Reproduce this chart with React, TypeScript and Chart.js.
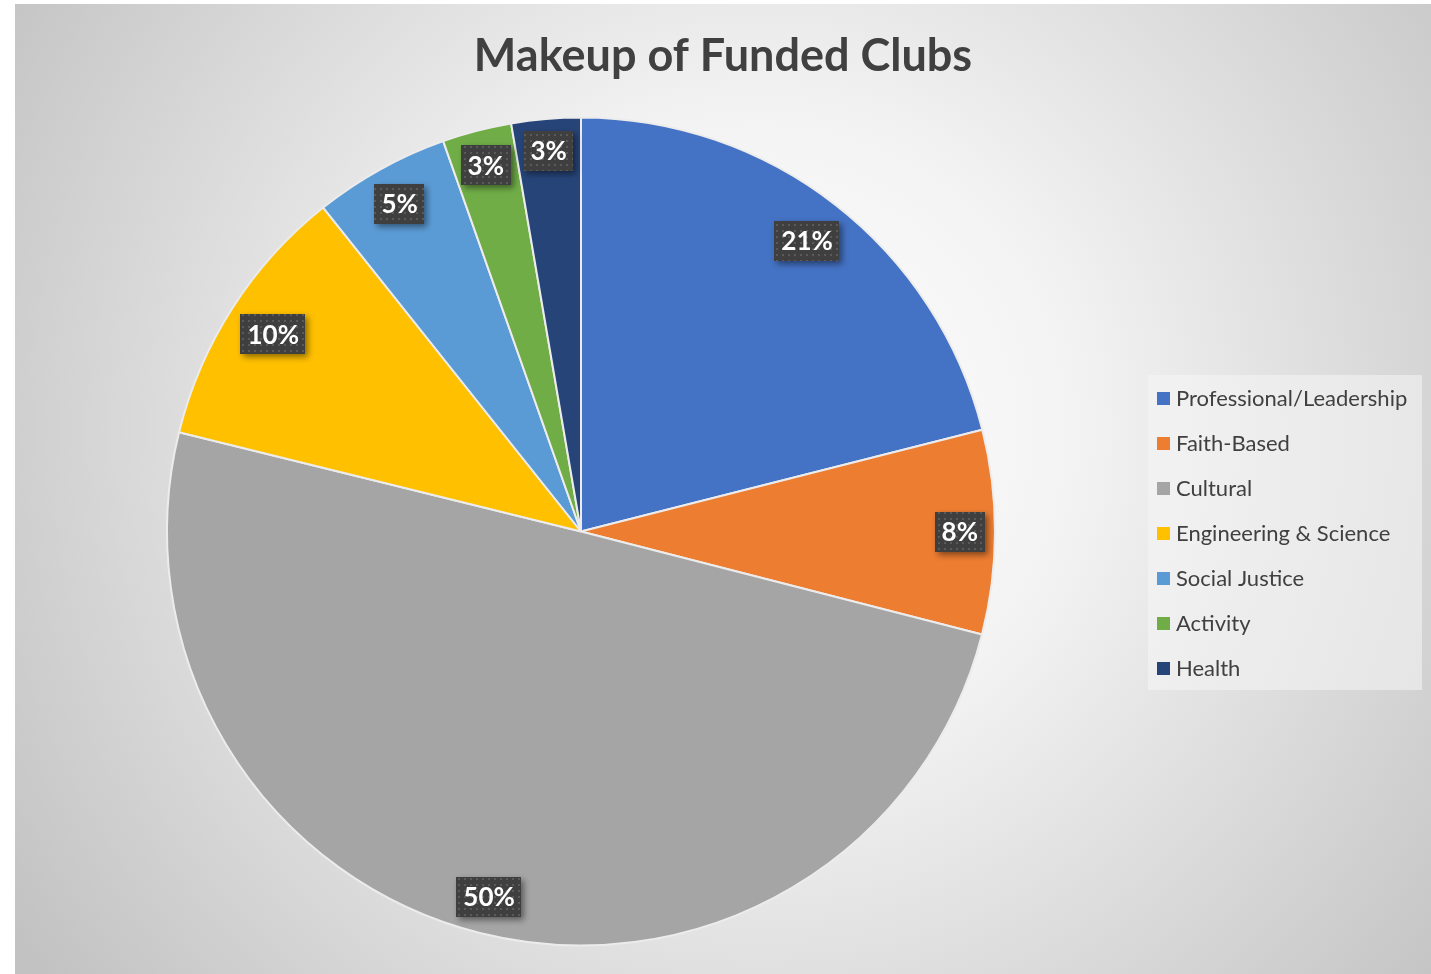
import React, { useEffect, useRef } from "react";
import { Chart, registerables } from "chart.js";

Chart.register(...registerables);

// ---- data ----
const categories = [
  "Professional/Leadership",
  "Faith-Based",
  "Cultural",
  "Engineering & Science",
  "Social Justice",
  "Activity",
  "Health",
];
const shares = [21.05, 7.95, 49.85, 10.45, 5.3, 2.7, 2.7];
const colors = ["#4472C4", "#ED7D31", "#A5A5A5", "#FFC000", "#5B9BD5", "#70AD47", "#264478"];
const chartTitle = "Makeup of Funded Clubs";

const W = 1431;
const H = 974;
const FONT = "Lato, 'Open Sans', 'DejaVu Sans', sans-serif";

function makePattern(ctx: CanvasRenderingContext2D) {
  const c = document.createElement("canvas");
  c.width = 6;
  c.height = 6;
  const p = c.getContext("2d")!;
  p.fillStyle = "#3f3f3f";
  p.fillRect(0, 0, 6, 6);
  p.fillStyle = "#5a5a5a";
  p.fillRect(2, 2, 2, 2);
  return ctx.createPattern(c, "repeat")!;
}

const backgroundPlugin = {
  id: "bgPlugin",
  beforeDraw(chart: any) {
    const ctx: CanvasRenderingContext2D = chart.ctx;
    ctx.save();
    ctx.fillStyle = "#ffffff";
    ctx.fillRect(0, 0, W, H);
    const cx = 760;
    const cy = 430;
    const g = ctx.createRadialGradient(cx, cy, 0, cx, cy, 900);
    g.addColorStop(0, "#ffffff");
    g.addColorStop(0.35, "#f3f3f3");
    g.addColorStop(1, "#c2c2c2");
    ctx.fillStyle = g;
    ctx.fillRect(15, 4, W - 15, H - 4);
    ctx.restore();
  },
};

const labelPlugin = {
  id: "pctLabels",
  afterDatasetsDraw(chart: any) {
    const ctx: CanvasRenderingContext2D = chart.ctx;
    const meta = chart.getDatasetMeta(0);
    const values: number[] = chart.data.datasets[0].data;
    const total = values.reduce((a, b) => a + b, 0);
    const pattern = makePattern(ctx);
    ctx.save();
    ctx.font = `bold 26px ${FONT}`;
    meta.data.forEach((arc: any, i: number) => {
      const { x, y, startAngle, endAngle, outerRadius } = arc.getProps(
        ["x", "y", "startAngle", "endAngle", "outerRadius"],
        true
      );
      const text = `${Math.round((values[i] / total) * 100)}%`;
      const tw = ctx.measureText(text).width;
      const bw = tw + 14;
      const bh = 40;
      const mid = (startAngle + endAngle) / 2;
      const ux = Math.cos(mid);
      const uy = Math.sin(mid);
      const support = Math.abs(ux) * (bw / 2) + Math.abs(uy) * (bh / 2);
      const d = outerRadius - 10 - support;
      const cx = x + ux * d;
      const cy = y + uy * d;
      ctx.save();
      ctx.shadowColor = "rgba(0,0,0,0.45)";
      ctx.shadowBlur = 6;
      ctx.shadowOffsetX = 3;
      ctx.shadowOffsetY = 3;
      ctx.fillStyle = pattern;
      ctx.fillRect(Math.round(cx - bw / 2), Math.round(cy - bh / 2), Math.round(bw), bh);
      ctx.restore();
      ctx.fillStyle = "#ffffff";
      ctx.textAlign = "center";
      ctx.textBaseline = "middle";
      ctx.fillText(text, cx, cy + 1);
    });
    ctx.restore();
  },
};

const decorPlugin = {
  id: "decor",
  afterDraw(chart: any) {
    const ctx: CanvasRenderingContext2D = chart.ctx;
    ctx.save();
    // title
    ctx.font = `bold 45px ${FONT}`;
    ctx.fillStyle = "#404040";
    ctx.textAlign = "center";
    ctx.textBaseline = "middle";
    ctx.fillText(chartTitle, 723, 56);

    // legend
    const lx = 1148;
    const ly = 375;
    const lw = 274;
    const lh = 315;
    ctx.fillStyle = "rgba(245,245,245,0.55)";
    ctx.fillRect(lx, ly, lw, lh);
    ctx.font = `22px ${FONT}`;
    ctx.textAlign = "left";
    const labels: string[] = chart.data.labels;
    const bg: string[] = chart.data.datasets[0].backgroundColor;
    labels.forEach((lab, i) => {
      const rowY = 398 + i * 45;
      ctx.fillStyle = bg[i];
      ctx.fillRect(1157, rowY - 6, 13, 13);
      ctx.fillStyle = "#404040";
      ctx.fillText(lab, 1176, rowY + 1);
    });
    ctx.restore();
  },
};

export default function App() {
  const ref = useRef<HTMLCanvasElement | null>(null);
  useEffect(() => {
    if (!ref.current) return;
    const chart = new Chart(ref.current, {
      type: "pie",
      data: {
        labels: categories,
        datasets: [
          {
            data: shares,
            backgroundColor: colors,
            borderColor: "#ececec",
            borderWidth: 2,
          },
        ],
      },
      options: {
        responsive: false,
        animation: false,
        devicePixelRatio: 1,
        layout: { padding: { left: 166, right: 435, top: 116, bottom: 27 } },
        plugins: {
          legend: { display: false },
          title: { display: false },
          tooltip: { enabled: false },
        },
      },
      plugins: [backgroundPlugin, labelPlugin, decorPlugin],
    });
    if ((document as any).fonts) {
      Promise.all([
        document.fonts.load(`bold 45px Lato`),
        document.fonts.load(`22px Lato`),
      ])
        .then(() => chart.draw())
        .catch(() => {});
    }
    return () => chart.destroy();
  }, []);
  return (
    <div style={{ position: "absolute", left: 0, top: 0, width: W, height: H }}>
      <canvas ref={ref} width={W} height={H} style={{ width: W, height: H, display: "block" }} />
    </div>
  );
}
